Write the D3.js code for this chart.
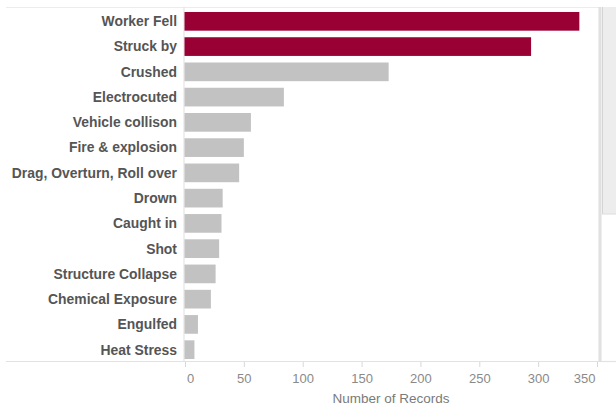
<!DOCTYPE html>
<html>
<head>
<meta charset="utf-8">
<script src="https://cdn.jsdelivr.net/npm/d3@7"></script>
<style>
  html, body { margin: 0; padding: 0; background: #fff; }
  svg { display: block; font-family: "Liberation Sans", Arial, sans-serif; }
</style>
</head>
<body>
<svg id="chart" width="616" height="406"></svg>
<script>
const categories = ["Worker Fell", "Struck by", "Crushed", "Electrocuted", "Vehicle collison",
  "Fire & explosion", "Drag, Overturn, Roll over", "Drown", "Caught in", "Shot",
  "Structure Collapse", "Chemical Exposure", "Engulfed", "Heat Stress"];
const values = [335, 294, 173, 84, 56, 50, 46, 32, 31, 29, 26, 22, 11, 8];
const highlighted = ["Worker Fell", "Struck by"];
const xTicks = [0, 50, 100, 150, 200, 250, 300, 350];
const xTitle = "Number of Records";

const svg = d3.select("#chart");
const x = d3.scaleLinear().domain([0, 350]).range([185, 597]);
const y = d3.scaleBand().domain(categories).range([8.7, 362.3]).paddingInner(0.26).paddingOuter(0.13);

// frame lines
svg.append("line").attr("x1", 6).attr("x2", 600).attr("y1", 7.5).attr("y2", 7.5)
  .attr("stroke", "#ececec").attr("stroke-width", 1);
svg.append("line").attr("x1", 6).attr("x2", 600).attr("y1", 361.5).attr("y2", 361.5)
  .attr("stroke", "#e2e2e2").attr("stroke-width", 1.2);
svg.append("line").attr("x1", 184).attr("x2", 184).attr("y1", 7).attr("y2", 362)
  .attr("stroke", "#e4e4e4").attr("stroke-width", 1.2);

// scrollbar
svg.append("rect").attr("x", 598.5).attr("y", 7).attr("width", 3).attr("height", 355).attr("fill", "#e0e0e0");
svg.append("rect").attr("x", 602).attr("y", 7).attr("width", 14).attr("height", 207).attr("fill", "#ededed");
svg.append("line").attr("x1", 602.5).attr("x2", 602.5).attr("y1", 7).attr("y2", 214)
  .attr("stroke", "#d4d4d4");
svg.append("line").attr("x1", 602).attr("x2", 616).attr("y1", 214).attr("y2", 214)
  .attr("stroke", "#dcdcdc");
svg.append("line").attr("x1", 600).attr("x2", 616).attr("y1", 361.5).attr("y2", 361.5)
  .attr("stroke", "#e2e2e2").attr("stroke-width", 1.2);

// bars
svg.append("g").selectAll("rect").data(categories).join("rect")
  .attr("x", x(0) - 0.5)
  .attr("y", d => y(d))
  .attr("width", (d, i) => x(values[i]) - x(0) + 0.5)
  .attr("height", y.bandwidth())
  .attr("fill", d => highlighted.includes(d) ? "#990033" : "#c2c2c2");

// category labels
svg.append("g").selectAll("text").data(categories).join("text")
  .attr("x", 177)
  .attr("y", d => y(d) + y.bandwidth() / 2)
  .attr("dy", "0.35em")
  .attr("text-anchor", "end")
  .attr("font-size", "13.9px")
  .attr("font-weight", "bold")
  .attr("fill", "#555")
  .text(d => d);

// x axis
const xAxis = d3.axisBottom(x).tickValues(xTicks).tickSize(5).tickPadding(7);
const ax = svg.append("g").attr("transform", "translate(0,362)").call(xAxis);
ax.select(".domain").remove();
ax.selectAll(".tick line").attr("stroke", "#d8d8d8");
ax.selectAll(".tick text")
  .attr("font-family", "Liberation Sans, Arial, sans-serif")
  .attr("font-size", "13px")
  .attr("fill", "#8a8a8a")
  .attr("text-anchor", (d, i) => i === 0 ? "start" : (i === xTicks.length - 1 ? "end" : "middle"))
  .attr("dx", (d, i) => i === 0 ? 1.5 : (i === xTicks.length - 1 ? -2 : 0));

svg.append("text")
  .attr("x", 391).attr("y", 403)
  .attr("text-anchor", "middle")
  .attr("font-size", "13.5px")
  .attr("fill", "#7a7a7a")
  .text(xTitle);
</script>
</body>
</html>
